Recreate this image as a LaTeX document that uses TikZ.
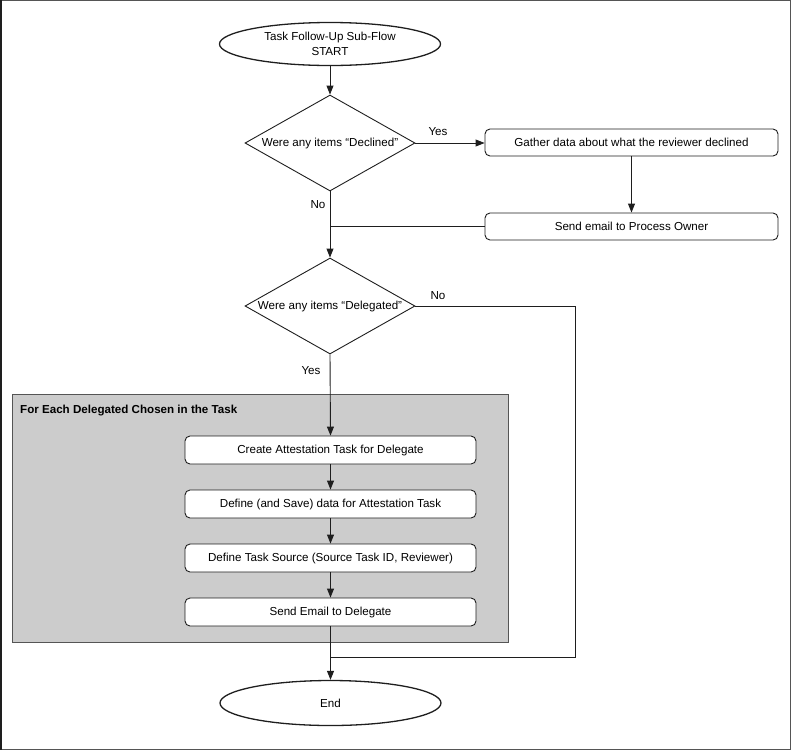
\documentclass[tikz,border=0pt]{standalone}
\usepackage{fontspec}
\setmainfont{Liberation Sans}
\usetikzlibrary{shapes.geometric,arrows.meta}
\definecolor{linec}{HTML}{1E1E1E}
\definecolor{grayfill}{HTML}{CCCCCC}
\definecolor{framec}{HTML}{555555}
\begin{document}
\begin{tikzpicture}[x=1pt,y=-1pt,
  font=\fontsize{11.6}{14.5}\selectfont,
  conn/.style={draw=linec,line width=0.9pt},
  arr/.style={conn,-{Triangle[length=9pt,width=7pt]}},
  term/.style={ellipse,draw=linec,line width=1.3pt,fill=white,inner sep=0pt,minimum width=221pt,minimum height=43pt,align=center},
  decide/.style={diamond,draw=linec,line width=0.9pt,fill=white,inner sep=0pt,aspect=1.77,minimum width=170pt,minimum height=96pt},
  procbox/.style={rectangle,rounded corners=5pt,draw=linec,line width=0.9pt,fill=white,inner sep=0pt},
  lbl/.style={inner sep=0pt}]
\useasboundingbox (0,0) rectangle (791,750);
% outer frame
\draw[draw=framec,line width=1.2pt] (0.6,0.6) rectangle (790.2,749.2);
\draw[draw=linec,line width=2pt] (1,0) -- (1,750);
% group
\node[draw=framec,line width=1pt,fill=grayfill,inner sep=0pt,minimum width=496pt,minimum height=248pt] (grp) at (260,518) {};
\node[lbl,anchor=west,font=\fontsize{11.6}{14}\selectfont\bfseries] (grptitle) at (20,411) {For Each Delegated Chosen in the Task};
% nodes
\node[term] (start) at (330,44) {Task Follow-Up Sub-Flow\\START};
\node[decide] (d1) at (330,143) {Were any items “Declined”};
\node[procbox,minimum width=293pt,minimum height=27pt] (gather) at (631.5,142.5) {Gather data about what the reviewer declined};
\node[procbox,minimum width=293pt,minimum height=27pt] (email) at (631.5,226.5) {Send email to Process Owner};
\node[decide] (d2) at (330,306) {Were any items “Delegated”};
\node[procbox,minimum width=291pt,minimum height=28pt] (create) at (330.5,450) {Create Attestation Task for Delegate};
\node[procbox,minimum width=291pt,minimum height=28pt] (define) at (330.5,504) {Define (and Save) data for Attestation Task};
\node[procbox,minimum width=291pt,minimum height=28pt] (source) at (330.5,558) {Define Task Source (Source Task ID, Reviewer)};
\node[procbox,minimum width=291pt,minimum height=28pt] (send) at (330.5,612) {Send Email to Delegate};
\node[term,minimum height=45pt] (end) at (330.5,703) {End};
% labels
\node[lbl] (yes1) at (438,132) {Yes};
\node[lbl] (no1) at (318,205) {No};
\node[lbl] (no2) at (438,296) {No};
\node[lbl] (yes2) at (311,371) {Yes};
\coordinate (rt) at (575,657);
% connectors
\draw[arr] (start.south) -- (d1.north);
\draw[arr] (d1.east) -- (d1.east -| gather.west);
\draw[arr] (gather.south) -- (email.north);
\draw[arr] (d1.south) -- (d2.north);
\draw[conn] (email.west) -- (email.west -| d1.south);
\draw[conn] (d2.east) -| (rt) -- (rt -| send.south);
\draw[arr] (d2.south) -- (create.north);
\draw[arr] (create.south) -- (define.north);
\draw[arr] (define.south) -- (source.north);
\draw[arr] (source.south) -- (send.north);
\draw[arr] (send.south) -- (end.north);
\end{tikzpicture}
\end{document}
